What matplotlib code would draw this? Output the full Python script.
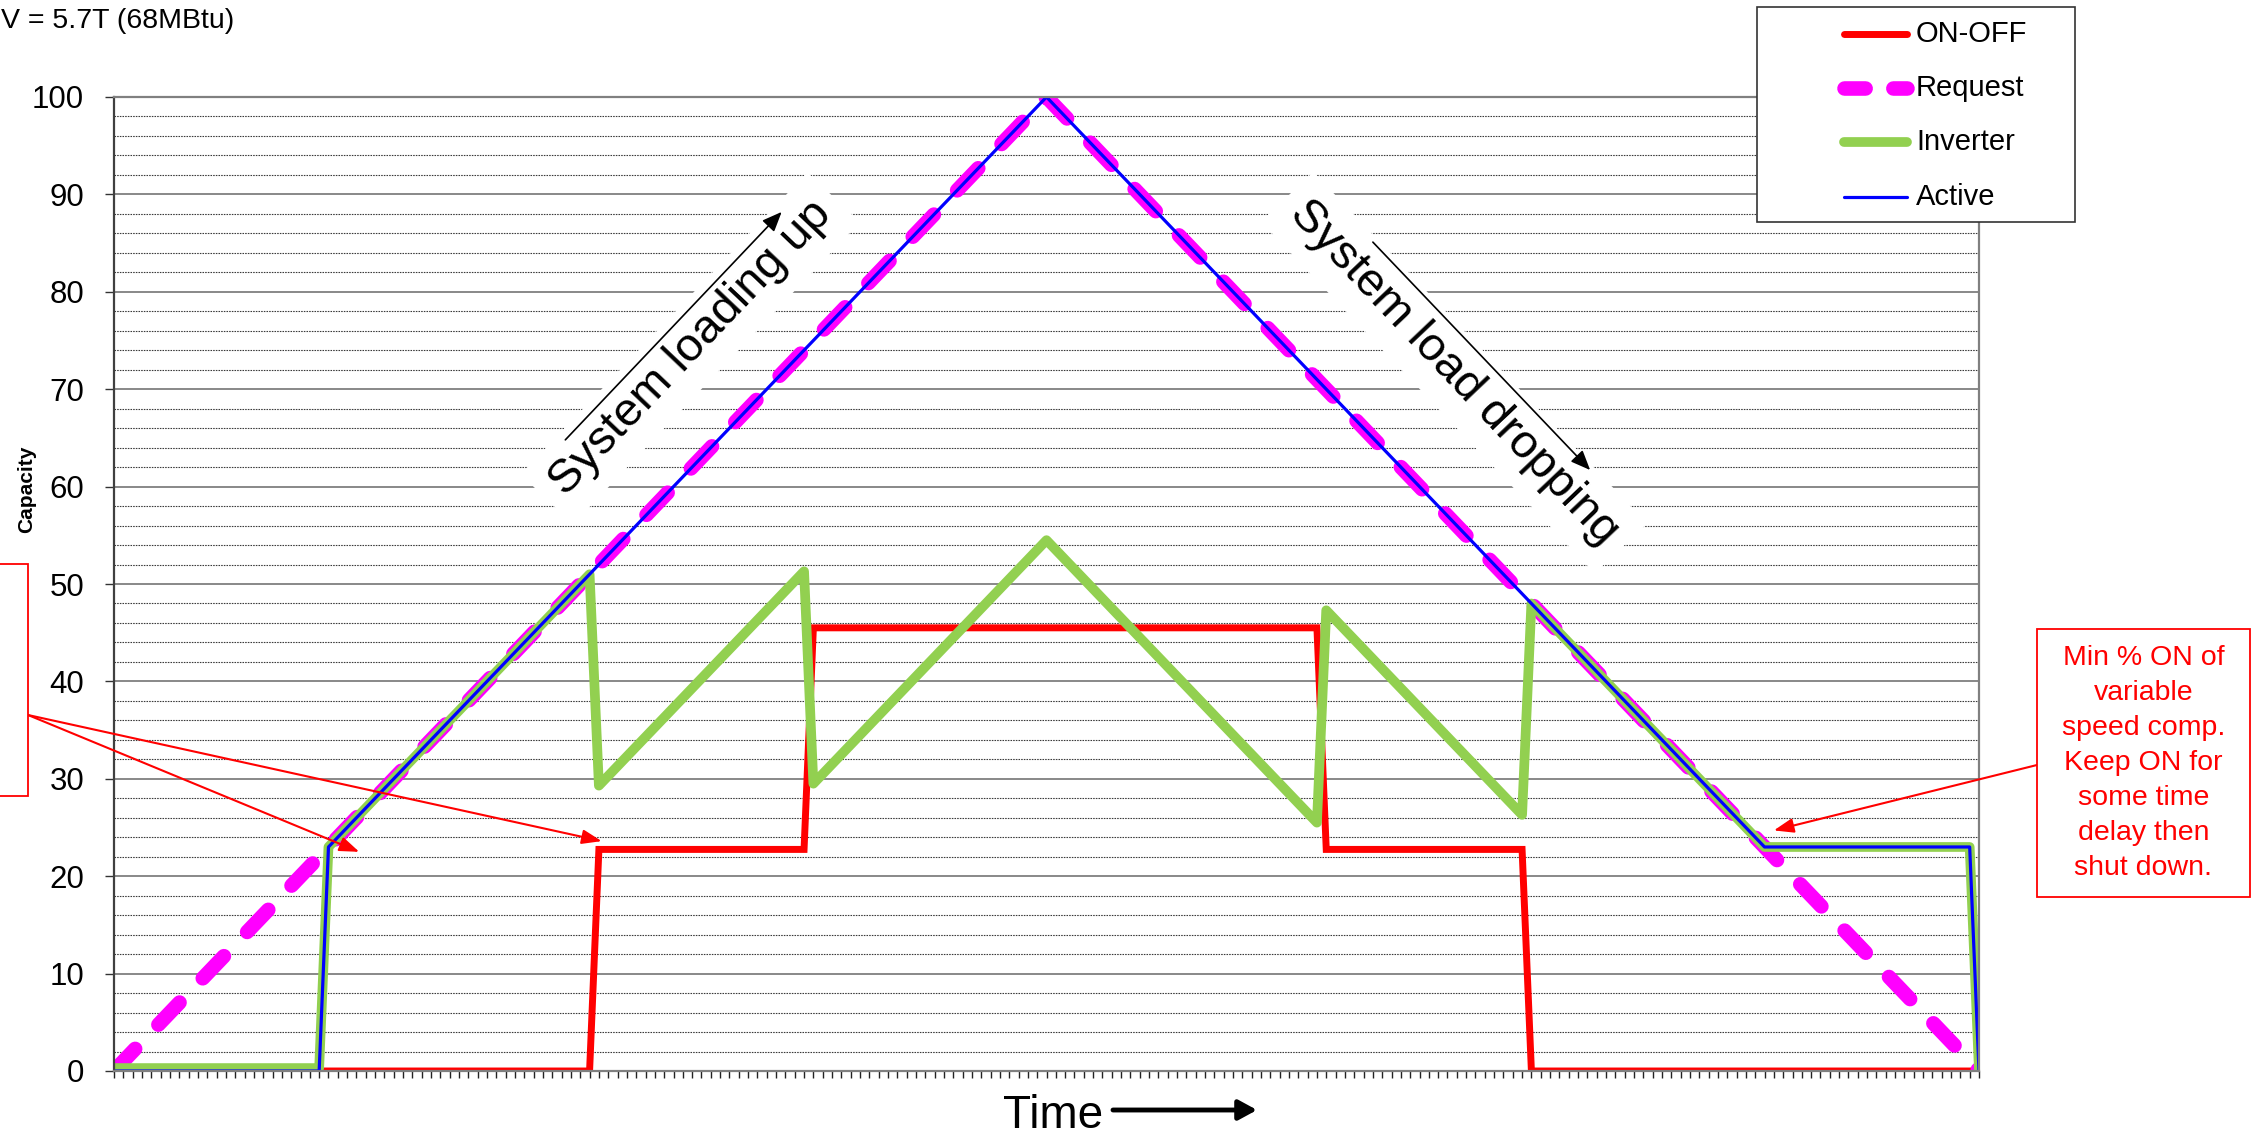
import matplotlib
matplotlib.use("Agg")
import matplotlib.pyplot as plt
from matplotlib.lines import Line2D
from matplotlib.patches import Rectangle

plt.rcParams['font.family'] = ['Liberation Sans', 'DejaVu Sans']

# series (time steps 0..200), breakpoints
onoff_x = [0, 51, 52, 74, 75, 129, 130, 151, 152, 200]
onoff_y = [0, 0, 22.75, 22.75, 45.5, 45.5, 22.75, 22.75, 0, 0]
request_x = [0, 100, 200]
request_y = [0, 100, 0]
inverter_x = [0, 22, 23, 51, 52, 74, 75, 100, 129, 130, 151, 152, 177, 199, 200]
inverter_y = [0.3, 0.3, 23, 51, 29.3, 51.3, 29.5, 54.5, 25.5, 47.3, 26.3, 48, 23, 23, 0]
active_x = [0, 22, 23, 100, 177, 199, 200]
active_y = [0, 0, 23, 100, 23, 23, 0]

legend_labels = ['ON-OFF', 'Request', 'Inverter', 'Active']
note_right = 'Min % ON of\nvariable\nspeed comp.\nKeep ON for\nsome time\ndelay then\nshut down.'

W, H = 2256, 1135
def fx(px):
    return px / W
def fy(py):
    return 1 - py / H

fig = plt.figure(figsize=(W / 100, H / 100), dpi=100)
ax = fig.add_axes([fx(114), fy(1071), (1979 - 114) / W, (1071 - 97) / H])

red, mag, grn, blu = '#FF0000', '#FF00FF', '#92D050', '#0000FF'

ax.plot(onoff_x, onoff_y, color=red, lw=5, solid_joinstyle='miter', zorder=2)
ax.plot(request_x, request_y, color=mag, lw=10.5, dashes=(2.1, 2.3), dash_capstyle='round', zorder=2.1)
ax.plot(inverter_x, inverter_y, color=grn, lw=7, solid_joinstyle='round', solid_capstyle='round', zorder=2.2)
ax.plot(active_x, active_y, color=blu, lw=2.3, zorder=2.3)

ax.set_xlim(0, 200)
ax.set_ylim(0, 100)
ax.set_xticks(range(0, 201))
ax.set_xticklabels([])
ax.set_yticks(range(0, 101, 10))
ax.set_yticks(range(0, 101, 2), minor=True)
ax.tick_params(axis='x', which='major', direction='out', length=5, width=1, color='#222222')
ax.tick_params(axis='y', which='major', direction='out', length=6.5, width=1, color='#333333',
               labelsize=22.5, pad=15)
ax.tick_params(axis='y', which='minor', length=0)
ax.set_axisbelow(True)
ax.grid(axis='y', which='major', color='#7f7f7f', lw=1.3)
ax.grid(axis='y', which='minor', color='#3a3a3a', ls=(0, (1.4, 1)), lw=0.8)
ax.grid(axis='x', which='both', visible=False)
for s in ax.spines.values():
    s.set_color('#808080')
    s.set_linewidth(1.6)
ax.spines['left'].set_color('#404040')

# rotated captions with arrows
ax.text(61.8, 74.2, 'System loading up', rotation=46.5, rotation_mode='anchor',
        ha='center', va='center', fontsize=34, zorder=1.5,
        bbox=dict(boxstyle='square,pad=0.3', fc='white', ec='none'))
ax.annotate('', xy=(71.6, 88.2), xytext=(48.4, 64.8), zorder=1.6,
            arrowprops=dict(arrowstyle='-|>,head_length=0.6,head_width=0.25', color='k',
                            lw=1.2, shrinkA=0, shrinkB=0, mutation_scale=20))
ax.text(143.7, 71.7, 'System load dropping', rotation=-46.5, rotation_mode='anchor',
        ha='center', va='center', fontsize=34, zorder=1.5,
        bbox=dict(boxstyle='square,pad=0.3', fc='white', ec='none'))
ax.annotate('', xy=(158.3, 61.7), xytext=(135.0, 85.1), zorder=1.6,
            arrowprops=dict(arrowstyle='-|>,head_length=0.6,head_width=0.25', color='k',
                            lw=1.2, shrinkA=0, shrinkB=0, mutation_scale=20))

# red callout arrows
red_arrow = dict(arrowstyle='-|>,head_length=0.6,head_width=0.22', color=red, lw=1.5,
                 shrinkA=0, shrinkB=0, mutation_scale=20)
ax.annotate('', xy=(26.3, 22.5), xytext=(28, H - 715), textcoords='figure pixels',
            arrowprops=red_arrow, annotation_clip=False, zorder=4)
ax.annotate('', xy=(52.3, 23.6), xytext=(28, H - 715), textcoords='figure pixels',
            arrowprops=red_arrow, annotation_clip=False, zorder=4)
ax.annotate('', xy=(178.0, 24.7), xytext=(2037, H - 765), textcoords='figure pixels',
            arrowprops=red_arrow, annotation_clip=False, zorder=4)

# callout boxes
fig.add_artist(Rectangle((fx(2037), fy(897)), (2250 - 2037) / W, (897 - 629) / H,
                         transform=fig.transFigure, fc='white', ec=red, lw=1.3))
fig.text(fx(2143.5), fy(763), note_right, color=red, fontsize=20.5, ha='center',
         va='center', linespacing=1.45)
fig.add_artist(Rectangle((-0.05, fy(796)), 0.05 + fx(28), (796 - 564) / H,
                         transform=fig.transFigure, fc='white', ec=red, lw=1.3))

# legend drawn by hand
fig.add_artist(Rectangle((fx(1757), fy(222)), (2075 - 1757) / W, (222 - 7) / H,
                         transform=fig.transFigure, fc='white', ec='#333333', lw=1.2, zorder=5))
leg_y = [34, 88, 142, 197]
styles = [dict(color=red, lw=5, solid_capstyle='round'),
          dict(color=mag, lw=10.5, dashes=(1.45, 1.9), dash_capstyle='round'),
          dict(color=grn, lw=7, solid_capstyle='round'),
          dict(color=blu, lw=2.3, solid_capstyle='round')]
for lab, yy, st in zip(legend_labels, leg_y, styles):
    fig.add_artist(Line2D([fx(1844), fx(1907)], [fy(yy), fy(yy)], transform=fig.transFigure,
                          zorder=6, **st))
    fig.text(fx(1916), fy(yy), lab, fontsize=21, ha='left', va='center', zorder=6)

# labels
fig.text(fx(27), fy(489), 'Capacity', rotation=90, fontsize=15, fontweight='bold',
         ha='center', va='center')
fig.text(fx(1003), fy(1128), 'Time', fontsize=33, ha='left', va='baseline')
ax.annotate('', xy=(1257, H - 1110), xytext=(1113, H - 1110), xycoords='figure pixels',
            textcoords='figure pixels', annotation_clip=False,
            arrowprops=dict(arrowstyle='-|>,head_length=0.55,head_width=0.3', color='k',
                            lw=3.5, shrinkA=0, shrinkB=0, mutation_scale=20))
fig.text(fx(1), fy(28), 'V = 5.7T (68MBtu)', fontsize=20.5, ha='left', va='baseline')

fig.savefig('out.png', dpi=100, facecolor='white')
